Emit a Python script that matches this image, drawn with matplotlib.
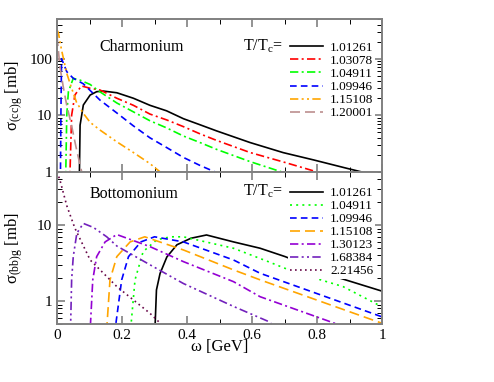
import matplotlib
matplotlib.use("Agg")
import matplotlib.pyplot as plt
from matplotlib.ticker import FixedLocator, MultipleLocator, LogLocator, NullFormatter

plt.rcParams["font.family"] = ["Liberation Serif", "DejaVu Serif"]
plt.rcParams["mathtext.fontset"] = "custom"
plt.rcParams["mathtext.rm"] = "Liberation Serif"
plt.rcParams["mathtext.it"] = "Liberation Serif:italic"

# ---- Charmonium (top panel) ----
charm_labels = ["1.01261", "1.03078", "1.04911", "1.09946", "1.15108", "1.20001"]
charm_w = [
    [0.068, 0.069, 0.071, 0.081, 0.102, 0.122, 0.142, 0.184, 0.235, 0.286, 0.337, 0.389,
     0.44, 0.491, 0.594, 0.696, 0.789, 0.891, 0.937, 0.96],
    [0.038, 0.040, 0.045, 0.055, 0.075, 0.102, 0.132, 0.184, 0.235, 0.286, 0.337, 0.389,
     0.44, 0.491, 0.594, 0.696, 0.80, 0.82],
    [0.025, 0.027, 0.030, 0.035, 0.050, 0.070, 0.102, 0.132, 0.184, 0.235, 0.286, 0.337,
     0.389, 0.44, 0.491, 0.594, 0.691, 0.70],
    [0.010, 0.012, 0.014, 0.030, 0.050, 0.081, 0.132, 0.184, 0.235, 0.286, 0.337, 0.389,
     0.44, 0.486, 0.50],
    [0.0, 0.004, 0.014, 0.030, 0.045, 0.060, 0.081, 0.102, 0.132, 0.184, 0.235, 0.286,
     0.317, 0.33],
    [0.0, 0.009, 0.020, 0.030, 0.045, 0.060, 0.076, 0.08],
]
charm_s = [
    [0.3, 1.0, 6.7, 15.2, 22.8, 26.1, 26.8, 25.0, 20.0, 15.0, 12.0, 8.7,
     6.8, 5.3, 3.3, 2.19, 1.63, 1.16, 1.0, 0.92],
    [0.3, 1.0, 10.0, 22.8, 33.0, 30.0, 28.0, 20.0, 15.0, 10.5, 8.3, 6.3,
     4.7, 3.6, 2.2, 1.5, 1.0, 0.93],
    [0.3, 1.0, 10.0, 26.0, 45.0, 42.0, 35.0, 26.0, 16.5, 11.5, 8.0, 6.0,
     4.3, 3.3, 2.5, 1.52, 1.0, 0.96],
    [0.3, 10.0, 100.0, 59.0, 45.0, 36.0, 18.6, 11.0, 6.5, 4.0, 2.7, 1.8,
     1.3, 1.0, 0.92],
    [320.0, 290.0, 142.0, 55.0, 30.0, 17.0, 10.8, 7.5, 5.5, 3.4, 2.2, 1.4,
     1.0, 0.9],
    [250.0, 72.0, 30.0, 15.0, 6.5, 2.5, 1.0, 0.85],
]
charm_colors = ["#000000", "#ff0000", "#00ff00", "#0000ff", "#ffa500", "#bc8f8f"]
charm_styles = ["-", (0, (5, 2, 1.2, 2)), (0, (5, 2, 1.2, 2)), (0, (4, 2.5)),
                (0, (5, 2, 1.2, 2, 1.2, 2)), (0, (6, 3))]

# ---- Bottomonium (bottom panel) ----
bottom_labels = ["1.01261", "1.04911", "1.09946", "1.15108", "1.30123", "1.68384", "2.21456"]
bottom_w = [
    [0.300, 0.302, 0.306, 0.317, 0.338, 0.369, 0.412, 0.46, 0.543, 0.625, 0.702, 0.871, 1.0],
    [0.225, 0.228, 0.240, 0.265, 0.307, 0.350, 0.389, 0.543, 0.65, 0.727, 0.88, 1.0],
    [0.178, 0.181, 0.199, 0.220, 0.258, 0.300, 0.389, 0.543, 0.625, 1.0],
    [0.151, 0.154, 0.163, 0.184, 0.225, 0.270, 0.389, 0.543, 0.625, 1.0],
    [0.100, 0.103, 0.110, 0.122, 0.148, 0.184, 0.286, 0.389, 0.543, 0.625, 0.86],
    [0.040, 0.042, 0.045, 0.050, 0.061, 0.081, 0.112, 0.153, 0.184, 0.286, 0.389, 0.543,
     0.65, 0.66],
    [0.0, 0.009, 0.030, 0.055, 0.102, 0.184, 0.286, 0.32],
]
bottom_s = [
    [0.1, 0.5, 1.4, 2.3, 3.8, 5.5, 6.7, 7.4, 6.0, 4.95, 3.84, 2.0, 1.35],
    [0.1, 0.5, 1.9, 4.47, 6.4, 7.0, 7.0, 4.95, 3.3, 2.44, 1.55, 0.84],
    [0.1, 0.5, 1.9, 3.84, 6.0, 7.0, 6.0, 3.47, 2.32, 0.62],
    [0.1, 0.5, 1.9, 3.84, 6.0, 7.0, 4.7, 2.57, 1.9, 0.51],
    [0.1, 0.5, 1.9, 3.84, 6.0, 7.5, 5.2, 3.3, 1.8, 1.14, 0.5],
    [0.1, 0.5, 1.9, 3.84, 7.8, 10.5, 9.3, 7.0, 5.3, 3.0, 1.7, 0.85, 0.54, 0.5],
    [50.0, 39.0, 18.0, 9.1, 3.47, 1.55, 0.69, 0.5],
]
bottom_colors = ["#000000", "#00ff00", "#0000ff", "#ffa500", "#9400d3", "#7221bc", "#670748"]
bottom_styles = ["-", (0, (1.2, 2.5)), (0, (4, 2.5)), (0, (6, 3)), (0, (5, 2, 1.2, 2)),
                 (0, (5, 2, 1.2, 2, 1.2, 2)), (0, (1, 2))]

fig = plt.figure(figsize=(4.94, 3.82), dpi=100)
ax_top = fig.add_axes([0.1154, 0.550, 0.6579, 0.400])
ax_bot = fig.add_axes([0.1154, 0.152, 0.6579, 0.398])


def style_axes(ax):
    ax.set_yscale("log")
    ax.set_xlim(0, 1)
    ax.xaxis.set_major_locator(MultipleLocator(0.2))
    ax.xaxis.set_minor_locator(MultipleLocator(0.1))
    ax.yaxis.set_minor_locator(LogLocator(base=10, subs=range(2, 10)))
    ax.yaxis.set_minor_formatter(NullFormatter())
    ax.tick_params(which="both", direction="in", top=True, right=True, labelsize=11)
    ax.tick_params(which="major", length=6, width=1.2, color="#808080")
    ax.tick_params(which="minor", length=3.5, width=0.7, color="#000000")
    for spine in ax.spines.values():
        spine.set_color("#808080")
        spine.set_linewidth(1.4)


for ax, ws, ss, cols, sty, labels in [
    (ax_top, charm_w, charm_s, charm_colors, charm_styles, charm_labels),
    (ax_bot, bottom_w, bottom_s, bottom_colors, bottom_styles, bottom_labels),
]:
    style_axes(ax)
    for w, s, c, ls, lab in zip(ws, ss, cols, sty, labels):
        ax.plot(w, s, color=c, linestyle=ls, linewidth=1.2, label=lab)

ax_top.set_ylim(1, 500)
ax_top.yaxis.set_major_locator(FixedLocator([1, 10, 100]))
ax_top.set_yticklabels(["1", "10", "100"])
ax_top.set_xticklabels([])
ax_top.set_ylabel(r"σ$_{\rm (cc)g}$ [mb]", fontsize=12)
ax_top.yaxis.set_label_coords(-0.10, 0.5)
ax_top.text(0.26, 0.82, "Charmonium", transform=ax_top.transAxes, fontsize=11.5,
            ha="center", va="center")
ax_top.text(0.572, 0.82, r"T/T$_{\rm c}$=", transform=ax_top.transAxes, fontsize=11.5,
            ha="left", va="center")

ax_bot.set_ylim(0.5, 50)
ax_bot.yaxis.set_major_locator(FixedLocator([1, 10]))
ax_bot.set_yticklabels(["1", "10"])
ax_bot.set_xticks([0, 0.2, 0.4, 0.6, 0.8, 1.0])
ax_bot.set_xticklabels(["0", "0.2", "0.4", "0.6", "0.8", "1"])
ax_bot.set_xlabel("ω [GeV]", fontsize=12, labelpad=-2)
ax_bot.set_ylabel(r"σ$_{\rm (bb)g}$ [mb]", fontsize=12)
ax_bot.yaxis.set_label_coords(-0.10, 0.5)
ax_bot.text(0.237, 0.855, "Bottomonium", transform=ax_bot.transAxes, fontsize=11.5,
            ha="center", va="center")
ax_bot.text(0.572, 0.87, r"T/T$_{\rm c}$=", transform=ax_bot.transAxes, fontsize=11.5,
            ha="left", va="center")

for ax, anchor in [(ax_top, (0.712, 0.86)), (ax_bot, (0.712, 0.91))]:
    leg = ax.legend(loc="upper left", bbox_to_anchor=anchor, fontsize=9.5,
                    frameon=True, facecolor="white", edgecolor="none", framealpha=1,
                    fancybox=False, borderpad=0.1, borderaxespad=0,
                    handlelength=2.5, handletextpad=0.55, labelspacing=0.06)
    leg.get_frame().set_linewidth(0)

fig.savefig("out.png", dpi=100)
